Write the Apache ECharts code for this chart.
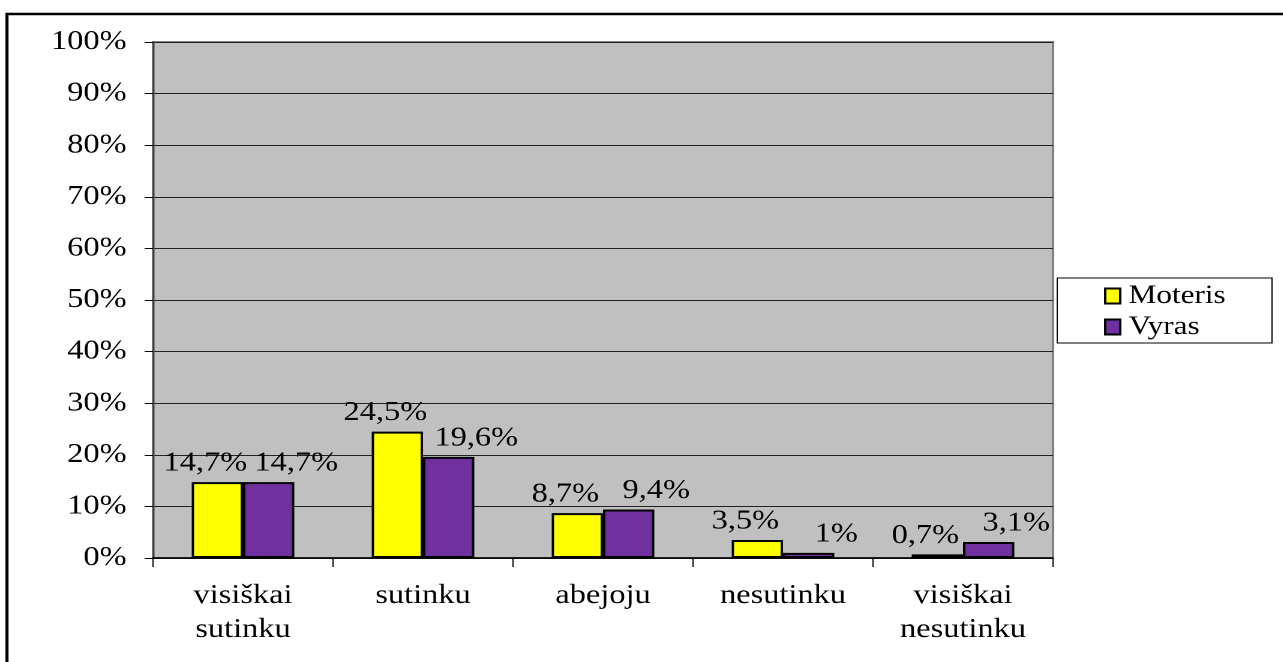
<!DOCTYPE html>
<html>
<head>
<meta charset="utf-8">
<script src="https://cdn.jsdelivr.net/npm/echarts@6/dist/echarts.min.js"></script>
<style>
  html, body { margin: 0; padding: 0; background: #fff; overflow: hidden; width: 1283px; height: 662px; }
  /* the original picture is stretched horizontally, so draw narrower and widen */
  #chart { width: 1070px; height: 662px; transform: scaleX(1.2); transform-origin: 0 0; }
</style>
</head>
<body>
<div id="chart"></div>
<script>
const categories = ['visiškai\nsutinku', 'sutinku', 'abejoju', 'nesutinku', 'visiškai\nnesutinku']
const moteris = [14.7, 24.5, 8.7, 3.5, 0.7]
const vyras = [14.7, 19.6, 9.4, 1, 3.1]
const seriesNames = ['Moteris', 'Vyras']
const seriesColors = ['#FFFF00', '#7030A0']

const font = 'Liberation Serif, Times New Roman, serif'
const pct = (p) => String(p.value).replace('.', ',') + '%'

const chart = echarts.init(document.getElementById('chart'), null, { devicePixelRatio: 2 })

const makeSeries = (name, data, color, dx) => ({
  name: name,
  type: 'bar',
  data: data,
  barGap: '0%',
  barCategoryGap: '43%',
  itemStyle: { color: color, borderColor: '#000', borderWidth: 2 },
  label: {
    show: true,
    position: 'top',
    distance: 5,
    offset: [dx, 0],
    formatter: pct,
    color: '#000',
    fontFamily: font,
    fontSize: 27
  }
})

chart.setOption({
  animation: false,
  graphic: [
    {
      type: 'rect',
      shape: { x: 5.8, y: 14, width: 1400, height: 800 },
      style: { fill: 'none', stroke: '#000', lineWidth: 2.6 },
      z: 0
    },
    {
      type: 'rect',
      shape: { x: 881, y: 278, width: 179, height: 65 },
      style: { fill: '#fff', stroke: '#000', lineWidth: 1 },
      z: 0
    }
  ],
  grid: {
    left: 127.5,
    top: 42,
    width: 750,
    height: 516,
    show: true,
    backgroundColor: '#C0C0C0',
    borderColor: '#808080',
    borderWidth: 2
  },
  legend: {
    orient: 'vertical',
    left: 920,
    top: 283,
    itemWidth: 12.5,
    itemHeight: 15,
    itemGap: 5,
    padding: 0,
    icon: 'rect',
    data: seriesNames,
    textStyle: { fontFamily: font, fontSize: 26, color: '#000', padding: [0, 0, 0, 2] }
  },
  xAxis: {
    type: 'category',
    data: categories,
    axisLine: { lineStyle: { color: '#000', width: 1.5 } },
    axisTick: { show: true, length: 9, lineStyle: { color: '#000' } },
    axisLabel: {
      color: '#000',
      fontFamily: font,
      fontSize: 27,
      lineHeight: 34,
      margin: 21,
      interval: 0
    }
  },
  yAxis: {
    type: 'value',
    min: 0,
    max: 100,
    interval: 10,
    axisLine: { show: true, lineStyle: { color: '#404040', width: 1.5 } },
    axisTick: { show: true, length: 7, lineStyle: { color: '#000' } },
    splitLine: { lineStyle: { color: '#222', width: 1 } },
    axisLabel: {
      formatter: '{value}%',
      color: '#000',
      fontFamily: font,
      fontSize: 27,
      margin: 22
    }
  },
  series: [
    makeSeries(seriesNames[0], moteris, seriesColors[0], -10),
    makeSeries(seriesNames[1], vyras, seriesColors[1], 23)
  ]
})
</script>
</body>
</html>
